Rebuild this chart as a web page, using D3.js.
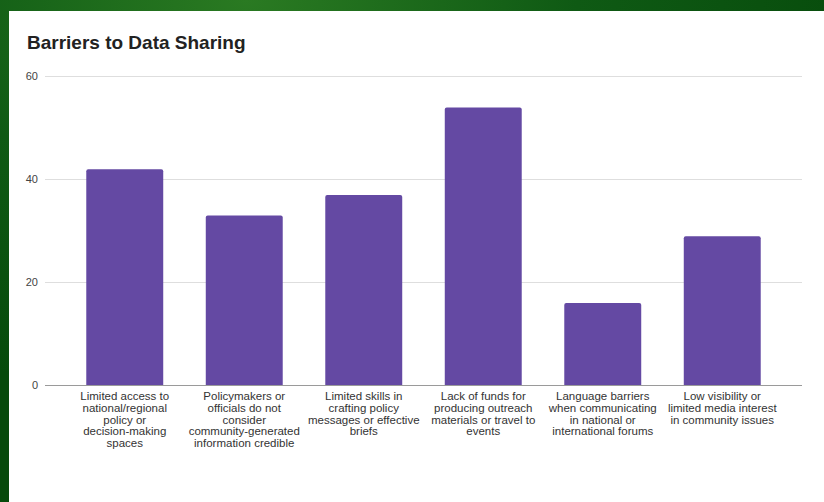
<!DOCTYPE html>
<html>
<head>
<meta charset="utf-8">
<script src="https://cdn.jsdelivr.net/npm/d3@7/dist/d3.min.js"></script>
<style>
  html, body { margin: 0; padding: 0; background: #0d5313; }
  svg { display: block; }
</style>
</head>
<body>
<script>
// Survey results: number of respondents citing each barrier
const categories = [
  "Limited access to\nnational/regional\npolicy or\ndecision-making\nspaces",
  "Policymakers or\nofficials do not\nconsider\ncommunity-generated\ninformation credible",
  "Limited skills in\ncrafting policy\nmessages or effective\nbriefs",
  "Lack of funds for\nproducing outreach\nmaterials or travel to\nevents",
  "Language barriers\nwhen communicating\nin national or\ninternational forums",
  "Low visibility or\nlimited media interest\nin community issues"
];
const values = [42, 33, 37, 54, 16, 29];
const yTicks = [0, 20, 40, 60];
const title = "Barriers to Data Sharing";

const W = 824, H = 502;
const svg = d3.select("body").append("svg").attr("width", W).attr("height", H);

// leafy green backdrop
const defs = svg.append("defs");
const g1 = defs.append("radialGradient").attr("id", "leaf").attr("cx", "30%").attr("cy", "0%").attr("r", "80%");
g1.append("stop").attr("offset", "0%").attr("stop-color", "#2a7a22");
g1.append("stop").attr("offset", "50%").attr("stop-color", "#0f5a14");
g1.append("stop").attr("offset", "100%").attr("stop-color", "#064a0b");
svg.append("rect").attr("width", W).attr("height", H).attr("fill", "url(#leaf)");

// white chart card
svg.append("rect").attr("x", 9).attr("y", 11).attr("width", W - 9).attr("height", H - 11).attr("fill", "#ffffff");

const x = d3.scaleBand()
  .domain(categories)
  .range([65, 782])
  .paddingInner(0.356)
  .paddingOuter(0.178);

const y = d3.scaleLinear().domain([0, 60]).range([385.5, 76.5]);

const font = "'Liberation Sans', Arial, sans-serif";

// title
svg.append("text")
  .attr("x", 27).attr("y", 49)
  .attr("font-family", font).attr("font-size", 19).attr("font-weight", "bold")
  .attr("fill", "#222222")
  .text(title);

// gridlines and y tick labels
const yAxis = svg.append("g");
yAxis.selectAll("line.grid")
  .data(yTicks.filter(d => d !== 0))
  .join("line")
  .attr("class", "grid")
  .attr("x1", 45).attr("x2", 802)
  .attr("y1", d => y(d)).attr("y2", d => y(d))
  .attr("stroke", "#dedede").attr("stroke-width", 1.2);

yAxis.selectAll("text")
  .data(yTicks)
  .join("text")
  .attr("x", 38).attr("y", d => y(d))
  .attr("dy", "0.35em")
  .attr("text-anchor", "end")
  .attr("font-family", font).attr("font-size", 11)
  .attr("fill", "#444444")
  .text(d => d);

// bars with slightly rounded tops
const r = 2;
svg.append("g").selectAll("path")
  .data(values)
  .join("path")
  .attr("fill", "#6449a3")
  .attr("d", (d, i) => {
    const x0 = x(categories[i]), w = x.bandwidth();
    const yt = y(d), yb = y(0);
    return `M${x0},${yb}V${yt + r}Q${x0},${yt} ${x0 + r},${yt}H${x0 + w - r}Q${x0 + w},${yt} ${x0 + w},${yt + r}V${yb}Z`;
  });

// baseline
svg.append("line")
  .attr("x1", 45).attr("x2", 802)
  .attr("y1", y(0)).attr("y2", y(0))
  .attr("stroke", "#9a9a9a").attr("stroke-width", 1.2);

// category labels
const labels = svg.append("g").selectAll("text")
  .data(categories)
  .join("text")
  .attr("x", d => x(d) + x.bandwidth() / 2)
  .attr("y", 400)
  .attr("text-anchor", "middle")
  .attr("font-family", font).attr("font-size", 11.5)
  .attr("fill", "#333333");

labels.each(function (d) {
  const t = d3.select(this);
  d.split("\n").forEach((line, k) => {
    t.append("tspan")
      .attr("x", x(d) + x.bandwidth() / 2)
      .attr("y", 400 + k * 11.8)
      .text(line);
  });
});
</script>
</body>
</html>
